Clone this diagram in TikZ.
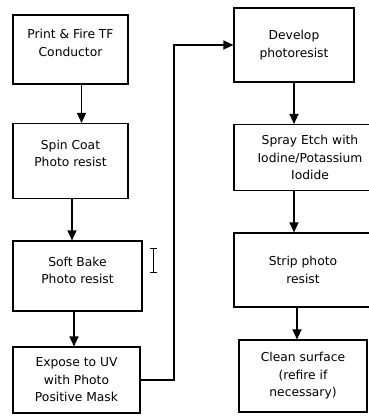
\documentclass[tikz,border=0pt]{standalone}
\usepackage{fontspec}
\setmainfont{DejaVu Sans}
\usetikzlibrary{arrows.meta}
\tikzset{
  stepbox/.style={draw, line width=1.1pt, align=center, inner sep=2pt,
    font=\fontsize{12.3}{17.5}\selectfont},
  flow/.style={line width=1.3pt, -{Triangle[length=10pt,width=9pt]}}
}

\begin{document}
\begin{tikzpicture}[x=1pt, y=-1pt]

			\useasboundingbox (0, 0) rectangle (368, 416);

			% left column
			\node[stepbox, minimum width=115pt, minimum height=69pt] (print) at (70.5, 49.5) {Print \& Fire TF\\Conductor\\[-4pt]};
			\node[stepbox, minimum width=115pt, minimum height=75pt] (spin) at (70.5, 161) {Spin Coat\\Photo resist\\[-2pt]};
			\node[stepbox, minimum width=129pt, minimum height=70pt] (bake) at (77.5, 276) {Soft Bake\\Photo resist\\[-6pt]};
			\node[stepbox, minimum width=127pt, minimum height=66pt] (expose) at (76.5, 380) {Expose to UV\\with Photo\\Positive Mask};

			% right column
			\node[stepbox, minimum width=120pt, minimum height=74pt] (develop) at (294, 45) {Develop\\photoresist};
			\node[stepbox, minimum width=152pt, minimum height=66pt] (etch) at (310, 157.5) {Spray Etch with\\Iodine/Potassium\\Iodide};
			\node[stepbox, minimum width=138pt, minimum height=74pt] (strip) at (303, 270) {Strip photo\\resist};
			\node[stepbox, minimum width=128pt, minimum height=72pt] (clean) at (303, 376) {Clean surface\\(refire if\\necessary)};

			\coordinate (turn) at (174, 0);

			\draw[flow] ([xshift=11pt]print.south) -- ([xshift=11pt]spin.north);
			\draw[flow] ([xshift=1.5pt]spin.south) -- ([xshift=1.5pt]spin.south |- bake.north);
			\draw[flow] ([xshift=-3.5pt]bake.south) -- ([xshift=-3.5pt]bake.south |- expose.north);
			\draw[flow] (expose.east) -| (turn |- develop.west) -- (develop.west);
			\draw[flow] (develop.south) -- (develop.south |- etch.north);
			\draw[flow] (develop.south |- etch.south) -- (develop.south |- strip.north);
			\draw[flow] ([xshift=3pt]develop.south |- strip.south) -- ([xshift=3pt]develop.south |- clean.north);

			% text cursor
			\draw[line width=0.9pt] (150, 248) -- (157, 248) (153.5, 248) -- (153.5, 272) (150, 272) -- (157, 272);

		\end{tikzpicture}
\end{document}
